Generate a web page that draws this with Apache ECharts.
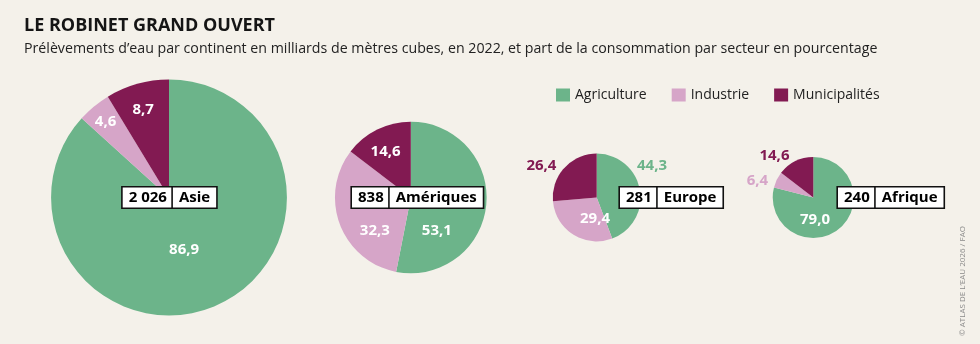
<!DOCTYPE html>
<html><head><meta charset="utf-8">
<script src="https://cdn.jsdelivr.net/npm/echarts@6/dist/echarts.min.js"></script>
<style>html,body{margin:0;padding:0;background:#f4f1ea;} #c{width:980px;height:344px;}</style>
</head><body><div id="c"></div>
<script>
// ---- data ----
const continents = ['Asie', 'Amériques', 'Europe', 'Afrique'];
const volumes = [2026, 838, 281, 240];
const volumeLabels = ['2 026', '838', '281', '240'];
const sectors = ['Agriculture', 'Industrie', 'Municipalités'];
const agriculture = [86.9, 53.1, 44.3, 79.0];
const industrie = [4.6, 32.3, 29.4, 6.4];
const municipalites = [8.7, 14.6, 26.4, 14.6];
const titleText = 'LE ROBINET GRAND OUVERT';
const subtitleText = 'Prélèvements d\u2019eau par continent en milliards de mètres cubes, en 2022, et part de la consommation par secteur en pourcentage';
const creditText = '\u00A9 ATLAS DE L\u2019EAU 2026 / FAO';

// ---- style / layout ----
const FONT = '"Open Sans", "Noto Sans", sans-serif';
const GREEN = '#6cb48a', PINK = '#d6a5c8', MAROON = '#821a52';
const colors = [GREEN, PINK, MAROON];
const centersX = [169, 410.8, 596.7, 813.3];
const centerY = 197.5;
const radiusScale = 2.62; // px per sqrt(volume)
const boxLeft = [122.7, 352, 620, 838];
// label placement per slice: [angle clockwise from top (deg), fraction of radius, colour]
const labelPlace = [
  [[164, 0.465, '#fff'], [320, 0.837, '#fff'], [343.6, 0.776, '#fff']],
  [[141.9, 0.556, '#fff'], [227.3, 0.645, '#fff'], [331, 0.686, '#fff']],
  [[59.9, 1.455, GREEN], [184.5, 0.49, '#fff'], [300.1, 1.455, MAROON]],
  [[175.6, 0.54, '#fff'], [287, 1.44, PINK], [316.9, 1.40, MAROON]]
];

const fmt = v => v.toFixed(1).replace('.', ',');

const series = continents.map((name, s) => {
  const r = radiusScale * Math.sqrt(volumes[s]);
  const vals = [agriculture[s], industrie[s], municipalites[s]];
  return {
    type: 'pie',
    name: name,
    center: [centersX[s], centerY],
    radius: [0, r],
    startAngle: 90,
    clockwise: true,
    avoidLabelOverlap: false,
    silent: true,
    animation: false,
    labelLine: { show: false },
    label: {
      show: true,
      position: 'inside',
      fontFamily: FONT,
      fontSize: 15,
      fontWeight: 'bold',
      formatter: p => fmt(p.value)
    },
    labelLayout: function (params) {
      const pl = labelPlace[s][params.dataIndex];
      const a = pl[0] * Math.PI / 180;
      return {
        x: centersX[s] + Math.sin(a) * pl[1] * r,
        y: centerY - Math.cos(a) * pl[1] * r,
        align: 'center',
        verticalAlign: 'middle'
      };
    },
    data: sectors.map((sec, i) => ({
      name: sec,
      value: vals[i],
      itemStyle: { color: colors[i] },
      label: { color: labelPlace[s][i][2] }
    }))
  };
});

const boxStyle = {
  fontFamily: FONT, fontSize: 15, fontWeight: 'bold', color: '#111',
  backgroundColor: '#fff', borderColor: '#111', borderWidth: 1.6,
  padding: [3, 6, 2, 6], lineHeight: 18
};

const graphics = continents.map((name, s) => ({
  type: 'text',
  x: boxLeft[s],
  y: centerY,
  z: 100,
  style: {
    text: '{a|' + volumeLabels[s] + '}{b|' + name + '}',
    verticalAlign: 'middle',
    align: 'left',
    rich: { a: boxStyle, b: boxStyle }
  }
}));
graphics.push({
  type: 'text',
  x: 963, y: 281,
  rotation: Math.PI / 2,
  style: {
    text: creditText, align: 'center', verticalAlign: 'middle',
    fontFamily: FONT, fontSize: 8, fill: '#8a8a8a'
  }
});

const chart = echarts.init(document.getElementById('c'), null, { renderer: 'canvas' });
chart.setOption({
  backgroundColor: '#f4f1ea',
  color: colors,
  animation: false,
  title: [
    { text: titleText, left: 24, top: 17, padding: 0,
      textStyle: { fontFamily: FONT, fontSize: 18, fontWeight: 'bold', color: '#151515' } },
    { text: subtitleText, left: 24, top: 42, padding: 0,
      textStyle: { fontFamily: FONT, fontSize: 14.2, fontWeight: 'normal', color: '#222' } }
  ],
  legend: {
    data: sectors,
    left: 556, top: 88,
    padding: 0,
    icon: 'rect',
    itemWidth: 14, itemHeight: 13, itemGap: 25,
    selectedMode: false,
    textStyle: { fontFamily: FONT, fontSize: 14, color: '#222' }
  },
  series: series,
  graphic: graphics
});
</script>
</body></html>
